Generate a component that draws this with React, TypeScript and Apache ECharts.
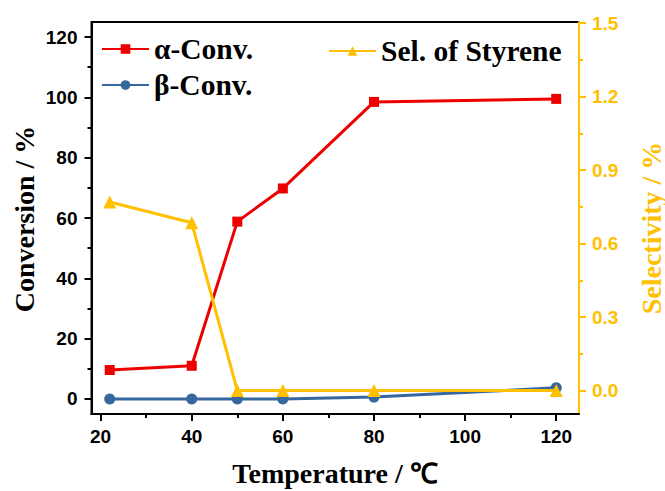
import React, { useEffect, useRef } from "react";
import * as echarts from "echarts";

const temperatures = [22, 40, 50, 60, 80, 120];
const alphaConv = [9.6, 11.0, 58.8, 69.8, 98.5, 99.5];
const betaConv = [0, 0, 0, 0, 0.6, 3.7];
const selStyrene = [0.77, 0.685, 0, 0, 0, 0];

const xTicks = [20, 40, 60, 80, 100, 120];
const xMinor = [30, 50, 70, 90, 110];
const yTicks = [0, 20, 40, 60, 80, 100, 120];
const yMinor = [10, 30, 50, 70, 90, 110];
const y2Ticks = [0, 0.3, 0.6, 0.9, 1.2, 1.5];
const y2Minor = [0.15, 0.45, 0.75, 1.05, 1.35];

const RED = "#EE0000";
const BLUE = "#36679E";
const YELLOW = "#FFC000";
const SANS = '"Liberation Sans", Arial, sans-serif';
const SERIF = '"Liberation Serif", "Times New Roman", serif';

export default function App() {
  const ref = useRef<HTMLDivElement>(null);
  useEffect(() => {
    document.body.style.margin = "0";
    if (!ref.current) return;
    const chart = echarts.init(ref.current, undefined, { renderer: "svg" });
    const xr = { min: 18, max: 125 };
    const yr = { min: -5, max: 125 };
    const y2r = { min: -0.096, max: 1.505 };
    const labelSans = (color: string) => ({
      fontFamily: SANS,
      fontWeight: "bold" as const,
      fontSize: 19,
      color,
    });
    const legendText = { fontFamily: SERIF, fontWeight: "bold", fontSize: 29.5, color: "#000" };
    chart.setOption({
      animation: false,
      grid: {
        left: 91.5,
        right: 86,
        top: 22,
        bottom: 77,
        show: true,
        borderColor: "#000",
        borderWidth: 2,
        backgroundColor: "transparent",
      },
      legend: [
        {
          data: ["α-Conv.", "β-Conv."],
          orient: "vertical",
          left: 101,
          top: 34,
          padding: 0,
          itemWidth: 47,
          itemHeight: 12,
          itemGap: 6,
          textStyle: legendText,
        },
        {
          data: ["Sel. of Styrene"],
          orient: "vertical",
          left: 328,
          top: 36,
          padding: 0,
          itemWidth: 47,
          itemHeight: 12,
          textStyle: legendText,
        },
      ],
      xAxis: [
        {
          type: "value",
          position: "bottom",
          ...xr,
          axisLine: { show: true, onZero: false, lineStyle: { color: "#000", width: 2 } },
          axisTick: { show: true, length: 7, lineStyle: { color: "#000", width: 2 }, customValues: xTicks },
          axisLabel: { ...labelSans("#000"), margin: 13, customValues: xTicks },
          splitLine: { show: false },
        },
        {
          type: "value",
          position: "bottom",
          offset: 0,
          ...xr,
          axisLine: { show: false, onZero: false },
          axisTick: { show: true, length: 4, lineStyle: { color: "#000", width: 2 }, customValues: xMinor },
          axisLabel: { show: false },
          splitLine: { show: false },
        },
      ],
      yAxis: [
        {
          type: "value",
          position: "left",
          ...yr,
          axisLine: { show: true, onZero: false, lineStyle: { color: "#000", width: 2 } },
          axisTick: { show: true, length: 7, lineStyle: { color: "#000", width: 2 }, customValues: yTicks },
          axisLabel: { ...labelSans("#000"), margin: 14, customValues: yTicks },
          splitLine: { show: false },
        },
        {
          type: "value",
          position: "right",
          ...y2r,
          axisLine: { show: true, onZero: false, lineStyle: { color: YELLOW, width: 2 } },
          axisTick: { show: true, length: 7, lineStyle: { color: YELLOW, width: 2 }, customValues: y2Ticks },
          axisLabel: {
            ...labelSans(YELLOW),
            margin: 13,
            customValues: y2Ticks,
            formatter: (v: number) => v.toFixed(1),
          },
          splitLine: { show: false },
        },
        {
          type: "value",
          position: "left",
          offset: 0,
          ...yr,
          axisLine: { show: false, onZero: false },
          axisTick: { show: true, length: 4, lineStyle: { color: "#000", width: 2 }, customValues: yMinor },
          axisLabel: { show: false },
          splitLine: { show: false },
        },
        {
          type: "value",
          position: "right",
          offset: 0,
          ...y2r,
          axisLine: { show: false, onZero: false },
          axisTick: { show: true, length: 4, lineStyle: { color: YELLOW, width: 2 }, customValues: y2Minor },
          axisLabel: { show: false },
          splitLine: { show: false },
        },
      ],
      series: [
        {
          name: "α-Conv.",
          type: "line",
          data: temperatures.map((t, i) => [t, alphaConv[i]]),
          symbol: "rect",
          symbolSize: 10,
          lineStyle: { color: RED, width: 3 },
          itemStyle: { color: RED },
          z: 3,
        },
        {
          name: "β-Conv.",
          type: "line",
          data: temperatures.map((t, i) => [t, betaConv[i]]),
          symbol: "circle",
          symbolSize: 11,
          lineStyle: { color: BLUE, width: 3 },
          itemStyle: { color: BLUE },
          z: 2,
        },
        {
          name: "Sel. of Styrene",
          type: "line",
          yAxisIndex: 1,
          data: temperatures.map((t, i) => [t, selStyrene[i]]),
          symbol: "triangle",
          symbolSize: 13,
          lineStyle: { color: YELLOW, width: 3 },
          itemStyle: { color: YELLOW },
          z: 4,
        },
      ],
      graphic: [
        {
          type: "text",
          x: 335,
          y: 473,
          style: {
            text: "Temperature / ℃",
            font: `bold 28px ${SERIF}`,
            fill: "#000",
            align: "center",
            verticalAlign: "middle",
          },
        },
        {
          type: "text",
          x: 24,
          y: 219,
          rotation: Math.PI / 2,
          style: {
            text: "Conversion / %",
            font: `bold 28px ${SERIF}`,
            fill: "#000",
            align: "center",
            verticalAlign: "middle",
          },
        },
        {
          type: "text",
          x: 651,
          y: 228,
          rotation: Math.PI / 2,
          style: {
            text: "Selectivity / %",
            font: `bold 28px ${SERIF}`,
            fill: YELLOW,
            align: "center",
            verticalAlign: "middle",
          },
        },
      ],
    });
    return () => chart.dispose();
  }, []);
  return <div ref={ref} style={{ width: 665, height: 491 }} />;
}
